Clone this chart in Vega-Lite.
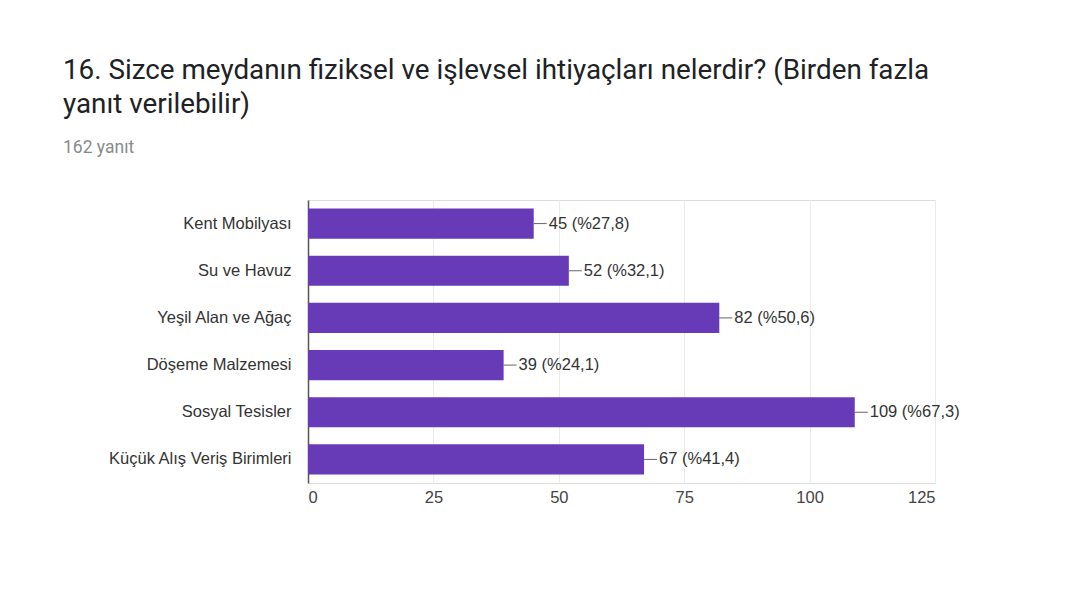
{
  "$schema": "https://vega.github.io/schema/vega-lite/v6.json",
  "width": 627,
  "height": 283,
  "autosize": {"type": "none"},
  "padding": {"left": 308, "top": 200, "right": 144, "bottom": 111},
  "background": "#ffffff",
  "title": {
    "text": ["16. Sizce meydanın fiziksel ve işlevsel ihtiyaçları nelerdir? (Birden fazla", "yanıt verilebilir)"],
    "subtitle": "162 yanıt",
    "anchor": "start",
    "frame": "group",
    "dx": -245,
    "offset": 44,
    "font": "Roboto",
    "fontSize": 27.8,
    "fontWeight": "normal",
    "color": "#202124",
    "lineHeight": 34,
    "subtitleFont": "Roboto",
    "subtitleFontSize": 17.5,
    "subtitleColor": "#8a8a8a",
    "subtitlePadding": 20
  },
  "data": {
    "values": [
      {"kategori": "Kent Mobilyası", "sayi": 45, "etiket": "45 (%27,8)"},
      {"kategori": "Su ve Havuz", "sayi": 52, "etiket": "52 (%32,1)"},
      {"kategori": "Yeşil Alan ve Ağaç", "sayi": 82, "etiket": "82 (%50,6)"},
      {"kategori": "Döşeme Malzemesi", "sayi": 39, "etiket": "39 (%24,1)"},
      {"kategori": "Sosyal Tesisler", "sayi": 109, "etiket": "109 (%67,3)"},
      {"kategori": "Küçük Alış Veriş Birimleri", "sayi": 67, "etiket": "67 (%41,4)"}
    ]
  },
  "encoding": {
    "y": {
      "field": "kategori",
      "type": "nominal",
      "sort": null,
      "title": null,
      "scale": {"paddingInner": 0.36, "paddingOuter": 0.18},
      "axis": {
        "ticks": false,
        "domainColor": "#555555",
        "domainWidth": 1.5,
        "labelPadding": 17,
        "labelLimit": 400,
        "labelFont": "Liberation Sans",
        "labelFontSize": 16.5,
        "labelColor": "#333333"
      }
    }
  },
  "layer": [
    {
      "mark": {"type": "bar", "color": "#673ab7"},
      "encoding": {
        "x": {
          "field": "sayi",
          "type": "quantitative",
          "title": null,
          "scale": {"domain": [0, 125], "nice": false},
          "axis": {
            "values": [0, 25, 50, 75, 100, 125],
            "grid": true,
            "gridColor": "#ebebeb",
            "domain": false,
            "ticks": false,
            "labelPadding": 6,
            "labelFont": "Liberation Sans",
            "labelFontSize": 16.5,
            "labelColor": "#444444"
          }
        }
      }
    },
    {
      "mark": {"type": "rule", "color": "#666666", "x2Offset": 13, "strokeWidth": 1},
      "encoding": {
        "x": {"field": "sayi", "type": "quantitative"},
        "x2": {"field": "sayi"}
      }
    },
    {
      "mark": {"type": "text", "align": "left", "baseline": "middle", "dx": 15, "font": "Liberation Sans", "fontSize": 16.5, "color": "#333333"},
      "encoding": {
        "x": {"field": "sayi", "type": "quantitative"},
        "text": {"field": "etiket"}
      }
    }
  ]
}
